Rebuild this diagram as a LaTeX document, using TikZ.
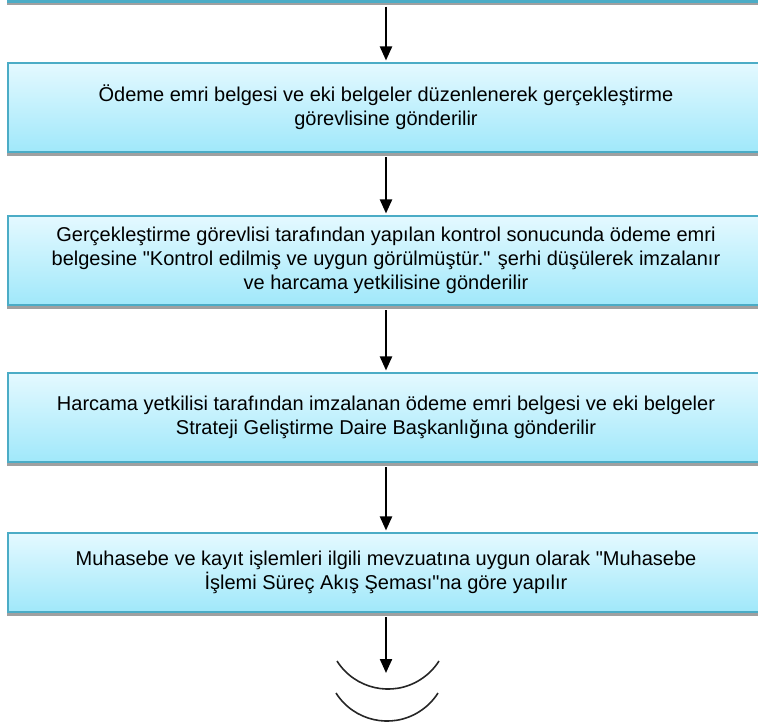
\documentclass[tikz,border=0pt]{standalone}
\usepackage{fontspec}
\setmainfont{Liberation Sans}
\usetikzlibrary{arrows.meta,shadows}
\definecolor{boxborder}{RGB}{75,172,198}
\definecolor{boxtop}{RGB}{228,249,255}
\definecolor{boxbot}{RGB}{160,232,250}
\definecolor{shadowgray}{RGB}{160,160,160}
\begin{document}
\begin{tikzpicture}[x=1pt,y=1pt,
  flowbox/.style={rectangle, draw=boxborder, line width=2.5pt, top color=boxtop, bottom color=boxbot,
    minimum width=756pt, align=center, inner sep=0pt, text=black,
    font=\fontsize{20}{24}\selectfont,
    general shadow={fill=shadowgray, shadow xshift=-1pt, shadow yshift=-4pt}},
  flowarrow/.style={-{Triangle[width=12pt,length=14pt]}, line width=2.2pt, black, shorten >=1.3pt},
  arcline/.style={line width=1.6pt, black!85}]
\useasboundingbox (0,0) rectangle (758,-725);
\clip (0,0) rectangle (758,-725);

\node[flowbox, minimum height=40pt] (prev) at (386,18.5) {};
\node[flowbox, minimum height=89pt] (b1) at (386,-107.5)
  {Ödeme emri belgesi ve eki belgeler düzenlenerek gerçekleştirme\\görevlisine gönderilir};
\node[flowbox, minimum height=89pt] (b2) at (386,-260.5)
  {Gerçekleştirme görevlisi tarafından yapılan kontrol sonucunda ödeme emri\\belgesine \textquotedbl Kontrol edilmiş ve uygun görülmüştür.\textquotedbl{} şerhi düşülerek imzalanır\\ve harcama yetkilisine gönderilir};
\node[flowbox, minimum height=89pt] (b3) at (386,-417.5)
  {Harcama yetkilisi tarafından imzalanan ödeme emri belgesi ve eki belgeler\\Strateji Geliştirme Daire Başkanlığına gönderilir};
\node[flowbox, minimum height=79pt] (b4) at (386,-572.5)
  {Muhasebe ve kayıt işlemleri ilgili mevzuatına uygun olarak \textquotedbl Muhasebe\\İşlemi Süreç Akış Şeması\textquotedbl na göre yapılır};
\coordinate (tipend) at (386,-673);

\draw[flowarrow] ([yshift=-4pt]prev.south) -- (b1.north);
\draw[flowarrow] ([yshift=-4pt]b1.south) -- (b2.north);
\draw[flowarrow] ([yshift=-4pt]b2.south) -- (b3.north);
\draw[flowarrow] ([yshift=-4pt]b3.south) -- (b4.north);
\draw[flowarrow, shorten >=0pt] ([yshift=-4pt]b4.south) -- (tipend);

\draw[arcline] (337,-661) arc[start angle=212.4, end angle=327.6, radius=60.4];
\draw[arcline] (336,-693) arc[start angle=212.4, end angle=327.6, radius=60.4];
\end{tikzpicture}
\end{document}
